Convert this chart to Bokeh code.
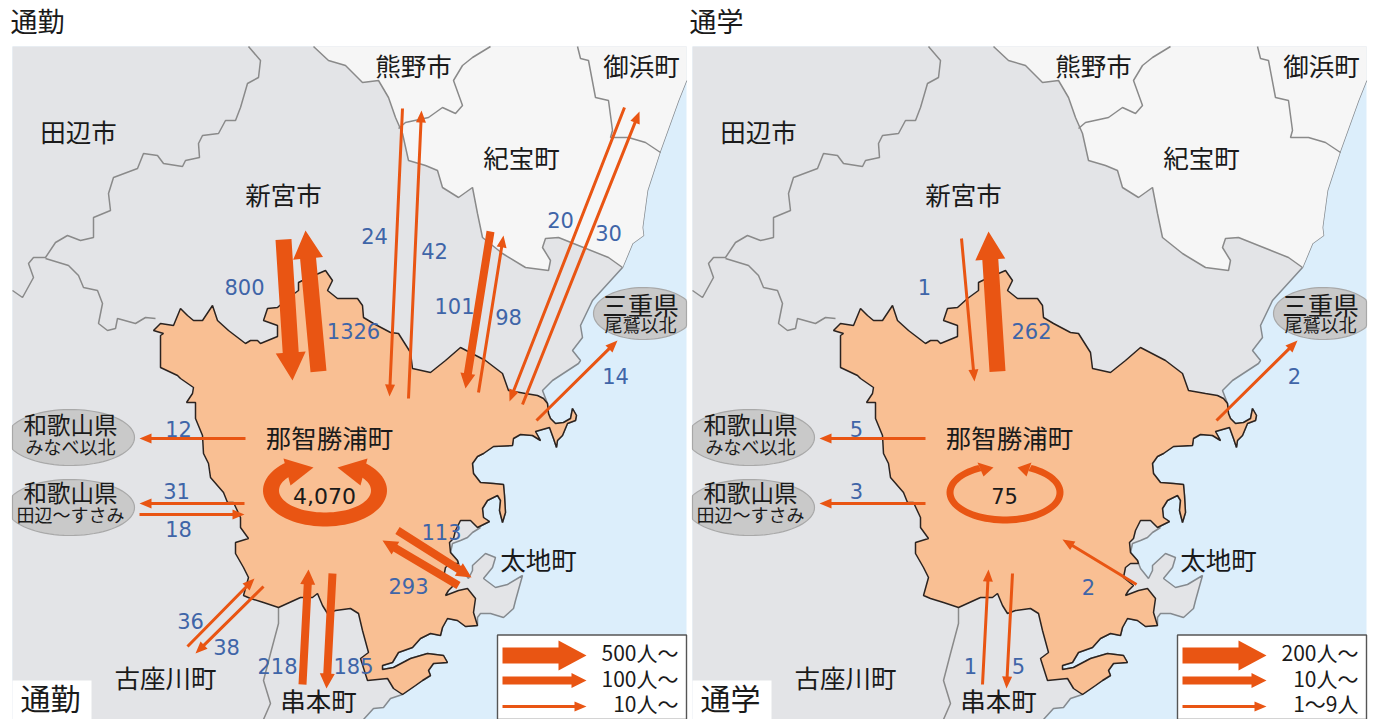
import numpy as np
from bokeh.plotting import figure
from bokeh.models import Range1d
from bokeh.core.properties import value
from bokeh.embed import file_html
from bokeh.resources import INLINE

# ---- values -----------------------------------------------------------
PANEL_TITLES = ["通勤", "通学"]
PLACES = ["田辺市", "新宮市", "熊野市", "御浜町", "紀宝町", "三重県", "那智勝浦町", "太地町", "古座川町", "串本町"]
PREF_LEFT = ["和歌山県", "和歌山県"]
PREF_LEFT_SUB = ["みなべ以北", "田辺～すさみ"]
PREF_RIGHT_SUB = ["尾鷲以北"]
COMMUTE_VALUES = ["800", "1326", "24", "42", "101", "98", "20", "30", "14", "12", "31", "18", "36", "38", "218", "185", "113", "293"]
SCHOOL_VALUES = ["1", "262", "2", "5", "3", "1", "5", "2"]
COMMUTE_INTERNAL = "4,070"
SCHOOL_INTERNAL = "75"
LEGEND_COMMUTE = ["500人～", "100人～", "10人～"]
LEGEND_SCHOOL = ["200人～", "10人～", "1～9人"]

# ---- geometry (reference pixels, left panel) --------
PX0, PX1, PY0, PY1 = 12, 686, 46, 719
OFFSET = 680

EAST_SHORE = [(548,413),(550,418),(555,423),(563,422),(570,418),(572,408),(576,415),(575,420),(567,423),(562,435),(557,440),(556,447),(553,438),
 (549,427),(535,431),(540,440),(532,435),(520,434),(513,438),(512,445),(493,446),(483,453),(477,456),(472,463),(473,473),(480,482),(493,483),
 (503,484),(504,495),(505,512),(502,522),(499,510),(500,500),(497,495),(487,500),(482,508),(483,517),(489,521),(477,527)]
SOUTH_SHORE = [(477,625),(465,626),(457,620),(447,618),(442,627),(440,635),(430,633),(420,638),(412,647),(398,652),(392,662),(382,665),(382,669),
 (393,667),(410,658),(427,653),(443,655),(447,662),(433,663),(428,670),(430,675),(422,680),(415,685),(402,694)]
COAST = [(686,80),(678,100),(660,150),(647,190),(642,227),(643,235),(632,243),(622,267),(592,300),(580,325),(582,337),(572,350),(580,360),
 (578,363),(552,380),(542,390),(547,403)] + EAST_SHORE + [(480,527),(472,532),(467,537),(460,540),(452,543),(450,552),(457,560),(460,568),
 (468,578),(472,570),(472,565),(485,553),(495,557),(492,567),(483,578),(495,587),(507,584),(522,575),(515,600),(513,608),(503,617),(490,613),
 (480,613),(477,617)] + SOUTH_SHORE + [(390,698),(383,707),(373,708),(363,719)]
LAND = [(12,719),(12,46),(686,46)] + COAST

ORANGE = [(160,367),(160,355),(160,335),(163,333),(153,330),(160,323),(173,325),(180,308),(187,315),(193,320),(202,320),(212,305),(217,320),
 (228,330),(245,343),(250,340),(257,340),(260,343),(277,336),(277,325),(263,320),(267,308),(277,307),(287,298),(298,290),(298,282),(302,280),
 (325,270),(332,280),(327,290),(337,298),(357,298),(362,305),(363,317),(373,323),(390,332),(398,333),(410,352),(412,368),(430,372),(445,360),
 (460,347),(485,360),(502,373),(508,390),(525,393),(537,395),(543,398),(547,403)] + EAST_SHORE + [(470,520),(460,520),(455,530),(453,538),(449,542),
 (450,552),(457,560),(458,563),(450,563),(445,567),(443,577),(453,585),(448,590),(445,595),(458,590),(467,588),(475,598),(473,612)] + SOUTH_SHORE + [
 (393,688),(387,678),(367,680),(360,658),(368,652),(362,630),(358,613),(350,608),(335,610),(327,613),(322,605),(317,593),(312,597),(300,597),
 (278,607),(263,602),(250,598),(243,595),(248,577),(243,567),(235,553),(235,542),(248,538),(240,527),(240,517),(233,502),(227,502),(223,492),
 (210,477),(208,463),(203,453),(202,435),(195,418),(195,402),(186,402),(192,393),(193,387),(180,378),(177,375)]

WHITE = [(313,46),(328,60),(345,65),(362,82),(378,80),(388,97),(395,117),(402,133),(408,160),(425,165),(437,170),(442,187),(458,197),(472,187),
 (477,213),(482,237),(502,253),(525,267),(548,270),(550,260),(542,247),(545,238),(558,237),(578,245),(608,257),(622,267),(632,243),(643,235),
 (642,227),(647,190),(660,150),(678,100),(686,80),(686,46)]

BORDERS = [
 [(248,46),(260,60),(258,77),(247,83),(240,107),(235,120),(225,120),(218,133),(202,135),(198,143),(199,157),(185,160),(182,166),(163,163),(157,155),
  (143,153),(137,168),(113,177),(108,193),(110,210),(93,217),(93,237),(80,240),(67,235),(55,242),(45,257),(33,257),(28,263),(33,277),(22,297),(12,290)],
 [(45,258),(68,265),(78,275),(83,287),(97,290),(102,303),(98,323),(107,330),(115,328),(117,318),(135,323),(145,317),(155,318)],
 [(278,607),(278,623),(270,653),(263,680),(270,703),(263,719)],
 [(398,128),(405,122),(428,117),(442,107),(455,113),(462,105),(453,80),(462,65),(472,57),(490,46)],
 [(577,46),(580,58),(588,60),(595,97),(608,100),(612,130),(610,137),(628,137),(645,142),(660,152)],
]

THIN, MID, BIG = (3, 10, 12), (8, 15, 15), (16, 30, 28)

COMMUTE_ARROWS = [
 (283,239,292,380,BIG),(318,371,305,230,BIG),(402,108,389,396,THIN),(408,398,421,110,THIN),(490,231,465,388,MID),(478,392,503,235,THIN),
 (624,107,509,401,THIN),(522,404,639,111,THIN),(536,420,617,340,THIN),(245,438,139,438,THIN),(244,503,139,503,THIN),(139,514,244,514,THIN),
 (187,646,254,578,THIN),(263,586,195,653,THIN),(302,684,308,569,MID),(332,573,326,688,MID),(397,530,471,577,MID),(458,585,382,540,MID)]
SCHOOL_ARROWS = [
 (961,238,974,381,THIN),(997,371,988,231,BIG),(1216,420,1297,340,THIN),(925,438,819,438,THIN),(925,503,819,503,THIN),
 (982,684,988,569,THIN),(1012,573,1006,688,THIN),(1136,584,1062,539,THIN)]
COMMUTE_LABEL_XY = [(244,286),(353,330),(374,235),(434,250),(454,305),(508,316),(560,219),(608,232),(615,375),(178,428),(176,490),(178,528),(190,620),(226,646),(277,665),(353,665),(441,531),(408,585)]
SCHOOL_LABEL_XY = [(924,286),(1031,330),(1294,375),(856,428),(856,490),(970,665),(1018,665),(1088,586)]
PLACE_XY = [(78,133),(283,196),(413,67),(641,67),(521,159),(640,306),(329,439),(538,561),(165,679),(318,702)]

ORANGE_C, SEA, GRAY, WHITE_C = "#f9bf93", "#dceefb", "#e3e4e7", "#f6f6f6"
ARROW_C, BLUE = "#e95513", "#3f65a8"
CJK = value("Noto Sans CJK JP")
NUM = value("DejaVu Sans")

p = figure(width=1383, height=719, x_range=Range1d(0, 1383), y_range=Range1d(719, 0),
           output_backend="svg", toolbar_location=None, min_border=0,
           background_fill_color="white", outline_line_color=None)
p.axis.visible = False
p.grid.visible = False


def arrow(x0, y0, x1, y1, spec):
    w, hw, hl = spec
    d = np.array([x1 - x0, y1 - y0], float)
    L = np.hypot(*d)
    u = d / L
    n = np.array([-u[1], u[0]])
    a, b, tip = np.array([x0, y0], float), np.array([x1, y1], float) - u * hl, np.array([x1, y1], float)
    pts = [a + n * w / 2, b + n * w / 2, b + n * hw / 2, tip, b - n * hw / 2, b - n * w / 2, a - n * w / 2]
    return [q[0] for q in pts], [q[1] for q in pts]


def draw_arrows(items):
    polys = [arrow(*it) for it in items]
    p.patches([q[0] for q in polys], [q[1] for q in polys], fill_color=ARROW_C, line_color=None)


def ellipse_poly(cx, cy, rx, ry, lo, hi):
    t = np.linspace(0, 2 * np.pi, 80)
    return np.clip(cx + rx * np.cos(t), lo, hi), cy + ry * np.sin(t)


def ring(cx, cy, orx, ory, irx, iry, ang, heads):
    t = np.radians(np.linspace(ang, 360 + 180 - ang, 70))
    xs = np.r_[cx + orx * np.cos(t), (cx + irx * np.cos(t))[::-1]]
    ys = np.r_[cy - ory * np.sin(t), (cy - iry * np.sin(t))[::-1]]
    p.patch(xs, ys, fill_color=ARROW_C, line_color=None)
    for h in heads:
        p.patch([q[0] for q in h], [q[1] for q in h], fill_color=ARROW_C, line_color=None)


def txt(x, y, s, size, color="#1a1a1a", align="center", font=CJK):
    dy = 0.11 * size if font is CJK else 0
    p.text(x, [v - dy for v in y], text=s, text_font=font, text_font_size=f"{size}px", text_color=color,
           text_align=align, text_baseline="middle")


for k, (title, off) in enumerate(zip(PANEL_TITLES, [0, OFFSET])):
    ox = lambda pts: [q[0] + off for q in pts]
    oy = lambda pts: [q[1] for q in pts]
    p.quad(left=[PX0 + off], right=[PX1 + off], top=[PY0], bottom=[PY1], fill_color=SEA, line_color=None)
    p.patch(ox(LAND), oy(LAND), fill_color=GRAY, line_color=None)
    p.line(ox(COAST), oy(COAST), line_color="#858a8f", line_width=1.5)
    p.patch(ox(WHITE), oy(WHITE), fill_color=WHITE_C, line_color=None)
    for b in BORDERS:
        p.line(ox(b), oy(b), line_color="#8a8a8a", line_width=1.5)
    p.line(ox(WHITE[:26]), oy(WHITE[:26]), line_color="#8a8a8a", line_width=1.5)
    p.patch(ox(ORANGE), oy(ORANGE), fill_color=ORANGE_C, line_color="#2b2320", line_width=1.5)

    # prefecture ovals
    for cy in (437, 507):
        ex, ey = ellipse_poly(70 + off, cy, 64, 28, PX0 + off, PX1 + off)
        p.patch(ex, ey, fill_color="#c9c9c9", line_color="#a8a8a8", line_width=1.2)
    ex, ey = ellipse_poly(643 + off, 313, 50, 26, PX0 + off, PX1 + off)
    p.patch(ex, ey, fill_color="#c9c9c9", line_color="#a8a8a8", line_width=1.2)
    txt([70 + off, 70 + off], [426, 494], PREF_LEFT, 23.5)
    txt([70 + off], [447], [PREF_LEFT_SUB[0]], 18)
    txt([70 + off], [515], [PREF_LEFT_SUB[1]], 18)
    txt([640 + off], [325], PREF_RIGHT_SUB, 18)

    # places
    txt([q[0] + off for q in PLACE_XY], [q[1] for q in PLACE_XY], PLACES, 25.5)

    # corner tag and page title
    p.quad(left=[PX0 + off], right=[91 + off], top=[680], bottom=[PY1], fill_color="white", line_color=None)
    txt([50 + off], [700], [title], 30)
    txt([10 + off - k], [23], [title], 27, align="left")

    # legend
    p.quad(left=[497 + off], right=[PX1 + off], top=[634.5], bottom=[PY1], fill_color="white", line_color="#555555", line_width=1.4)
    draw_arrows([(502 + off, 655, 586 + off, 655, BIG), (502 + off, 680, 586 + off, 680, MID), (502 + off, 706, 586 + off, 706, THIN)])
    txt([678 + off] * 3, [654, 680, 705], LEGEND_COMMUTE if k == 0 else LEGEND_SCHOOL, 21, align="right")

# flows
draw_arrows(COMMUTE_ARROWS)
draw_arrows(SCHOOL_ARROWS)
ring(324.5, 490, 62, 36, 46, 22, 128, [[(283,458),(313,467),(290,485)], [(367,458),(337,467),(360,485)]])
ring(1004.5, 492, 58.5, 31, 51.5, 24, 117, [[(977,462),(993,467),(983,476)], [(1031,462),(1017,467),(1026,476)]])
txt([324], [495], [COMMUTE_INTERNAL], 22, font=NUM)
txt([1004], [495], [SCHOOL_INTERNAL], 21, font=NUM)

# values
txt([q[0] for q in COMMUTE_LABEL_XY], [q[1] for q in COMMUTE_LABEL_XY], COMMUTE_VALUES, 21, color=BLUE, font=NUM)
txt([q[0] for q in SCHOOL_LABEL_XY], [q[1] for q in SCHOOL_LABEL_XY], SCHOOL_VALUES, 21, color=BLUE, font=NUM)

open("out.html", "w").write(file_html(p, INLINE))
